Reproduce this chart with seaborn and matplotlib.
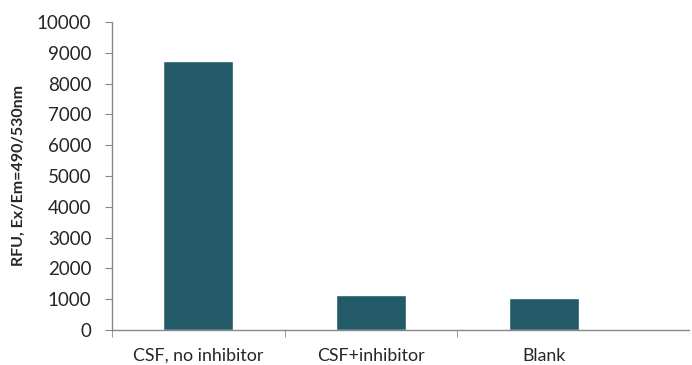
import numpy as np
import pandas as pd
import seaborn as sns
import matplotlib.pyplot as plt
from matplotlib.ticker import FixedLocator

# data
samples = ["CSF, no inhibitor", "CSF+inhibitor", "Blank"]
rfu = [8720, 1150, 1030]

sns.set_style("white")
plt.rcParams["font.family"] = ["Lato", "DejaVu Sans"]

df = pd.DataFrame({"sample": samples, "rfu": rfu})

fig = plt.figure(figsize=(6.92, 3.65), dpi=100)
ax = fig.add_axes([0.162, 0.096, 0.833, 0.844])

sns.barplot(data=df, x="sample", y="rfu", color="#235A68", saturation=1,
            width=0.405, ax=ax)

ax.set_ylim(0, 10000)
ax.set_xlim(-0.5, 2.84)
ax.set_yticks(np.arange(0, 10001, 1000))
ax.set_xlabel("")
ax.set_ylabel("RFU, Ex/Em=490/530nm", fontsize=11.5, fontweight="bold")
ax.yaxis.set_label_coords(-0.149, 0.5)

for s in ["top", "right"]:
    ax.spines[s].set_visible(False)
for s in ["left", "bottom"]:
    ax.spines[s].set_color("#888888")
    ax.spines[s].set_linewidth(1)

ax.tick_params(axis="y", direction="out", length=5, color="#888888",
               labelsize=13.5, left=True, pad=10)
ax.tick_params(axis="x", which="major", length=0, labelsize=12.8, pad=13)
ax.xaxis.set_minor_locator(FixedLocator([-0.5, 0.5, 1.5]))
ax.tick_params(axis="x", which="minor", direction="out", length=5,
               color="#888888", bottom=True)

fig.savefig("out.png", dpi=100)
